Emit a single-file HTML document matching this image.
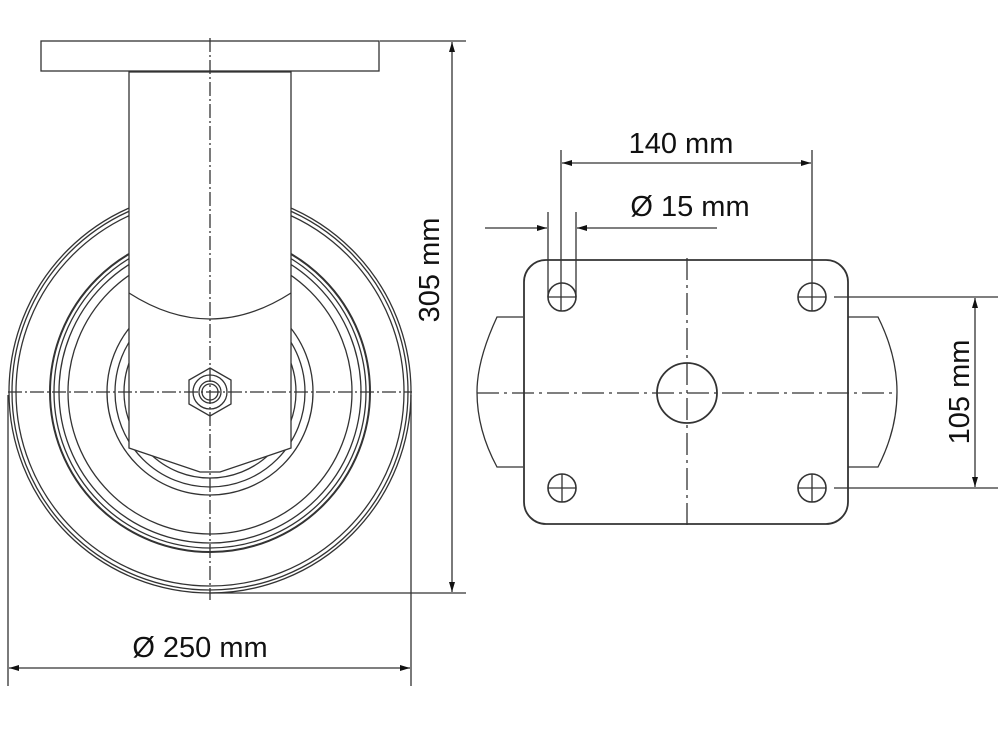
<!DOCTYPE html>
<html><head><meta charset="utf-8"><style>
html,body{margin:0;padding:0;background:#fff;}
svg{display:block;}
text{font-family:"Liberation Sans","DejaVu Sans",sans-serif;font-size:29px;fill:#111;}
</style></head><body>
<svg width="1000" height="751" viewBox="0 0 1000 751" xmlns="http://www.w3.org/2000/svg">
<defs>
<marker id="a" viewBox="0 0 10 6" refX="10" refY="3" markerWidth="12" markerHeight="6" markerUnits="userSpaceOnUse" orient="auto-start-reverse"><path d="M0,0 L10,3 L0,6 z" fill="#111"/></marker>
</defs>
<g fill="none" stroke="#333" stroke-width="1.3">
<circle cx="210" cy="392" r="201"/>
<circle cx="210" cy="392" r="198"/>
<circle cx="210" cy="392" r="194"/>
<circle cx="210" cy="392" r="160" stroke-width="2"/>
<circle cx="210" cy="392" r="156"/>
<circle cx="210" cy="392" r="151"/>
<circle cx="210" cy="392" r="142"/>
<circle cx="210" cy="392" r="103"/>
<circle cx="210" cy="392" r="95"/>
<circle cx="210" cy="392" r="86"/>
<path d="M129,72 L129,448 L200,472 L220,472 L291,448 L291,72 Z" fill="#fff"/>
<path d="M129,293 Q210,345 291,293"/>
<rect x="41" y="41" width="338" height="30" fill="#fff"/>
<polygon points="210,368 231,380 231,404 210,416 189,404 189,380" fill="#fff"/>
<circle cx="210" cy="392" r="17"/>
<circle cx="210" cy="392" r="11"/>
<circle cx="210" cy="392" r="8"/>
<line x1="210" y1="38" x2="210" y2="600" stroke-dasharray="14,3,2,3"/>
<line x1="8" y1="392" x2="412" y2="392" stroke-dasharray="14,3,2,3"/>
<line x1="380" y1="41" x2="466" y2="41"/>
<line x1="210" y1="593" x2="466" y2="593"/>
<line x1="452" y1="42" x2="452" y2="592" marker-start="url(#a)" marker-end="url(#a)"/>
<line x1="8" y1="395" x2="8" y2="686"/>
<line x1="411" y1="395" x2="411" y2="686"/>
<line x1="9" y1="668" x2="410" y2="668" marker-start="url(#a)" marker-end="url(#a)"/>
<path d="M523,317 L497,317 Q477,360 477,392 Q477,430 497,467 L523,467"/>
<path d="M848,317 L878,317 Q897,355 897,392 Q897,430 878,467 L848,467"/>
<rect x="524" y="260" width="324" height="264" rx="22" stroke-width="1.8"/>
<circle cx="687" cy="393" r="30" stroke-width="1.8"/>
<circle cx="562" cy="297" r="14" stroke-width="1.6"/>
<circle cx="812" cy="297" r="14" stroke-width="1.6"/>
<circle cx="562" cy="488" r="14" stroke-width="1.6"/>
<circle cx="812" cy="488" r="14" stroke-width="1.6"/>
<line x1="687" y1="258" x2="687" y2="526" stroke-dasharray="22,5,3,5"/>
<line x1="477" y1="393" x2="897" y2="393" stroke-dasharray="22,5,3,5"/>
<line x1="548" y1="297" x2="576" y2="297"/>
<line x1="548" y1="488" x2="576" y2="488"/>
<line x1="562" y1="474" x2="562" y2="502"/>
<line x1="798" y1="488" x2="826" y2="488"/>
<line x1="812" y1="474" x2="812" y2="502"/>
<line x1="798" y1="297" x2="826" y2="297"/>
<line x1="561" y1="150" x2="561" y2="311"/>
<line x1="812" y1="150" x2="812" y2="311"/>
<line x1="562" y1="163" x2="811" y2="163" marker-start="url(#a)" marker-end="url(#a)"/>
<line x1="548" y1="212" x2="548" y2="297"/>
<line x1="576" y1="212" x2="576" y2="297"/>
<line x1="485" y1="228" x2="547" y2="228" marker-end="url(#a)"/>
<line x1="717" y1="228" x2="577" y2="228" marker-end="url(#a)"/>
<line x1="834" y1="297" x2="998" y2="297"/>
<line x1="834" y1="488" x2="998" y2="488"/>
<line x1="975" y1="298" x2="975" y2="487" marker-start="url(#a)" marker-end="url(#a)"/>
</g>
<text x="200" y="657" text-anchor="middle">Ø 250 mm</text>
<text x="681" y="153" text-anchor="middle">140 mm</text>
<text x="690" y="216" text-anchor="middle">Ø 15 mm</text>
<text transform="translate(439,270) rotate(-90)" text-anchor="middle">305 mm</text>
<text transform="translate(969,392) rotate(-90)" text-anchor="middle">105 mm</text>
</svg>
</body></html>
